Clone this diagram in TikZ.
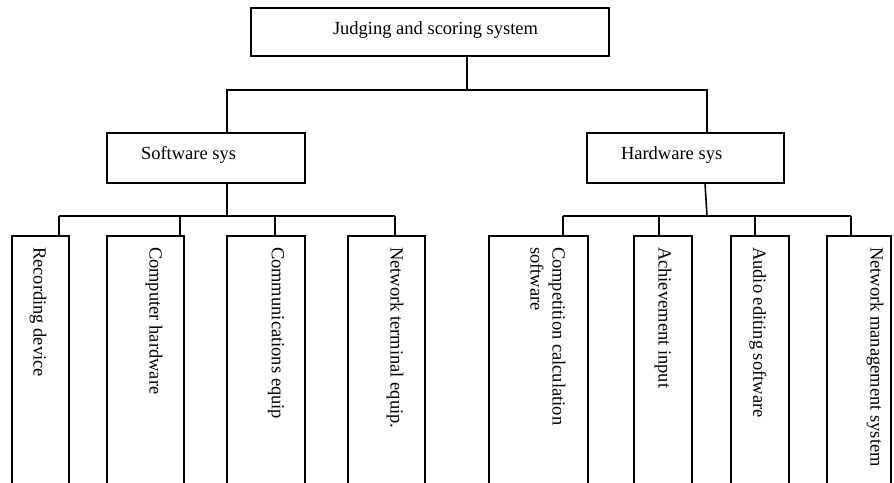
\documentclass[tikz,border=0pt]{standalone}
\usepackage{fontspec}
\setmainfont{Liberation Serif}
\begin{document}
\begin{tikzpicture}[x=1pt,y=-1pt, line width=1.6pt,
  box/.style={draw, rectangle, inner sep=0pt, outer sep=0pt, anchor=north west},
  lbl/.style={font=\fontsize{18.5}{22}\selectfont, inner sep=0pt, outer sep=0pt},
  vlbl/.style={lbl, rotate=-90, anchor=west, align=left}]
\useasboundingbox (0,0) rectangle (894,482);
\fill[white] (0,0) rectangle (894,482);
\clip (0,0) rectangle (894,482);

% boxes
\node[box, minimum width=358pt, minimum height=48pt] (top) at (251,8) {};
\node[box, minimum width=198pt, minimum height=50pt] (soft) at (107,133) {};
\node[box, minimum width=197pt, minimum height=50pt] (hard) at (587,133) {};

\node[box, minimum width=57pt, minimum height=270pt] (b1) at (12,236) {};
\node[box, minimum width=77pt, minimum height=270pt] (b2) at (107,236) {};
\node[box, minimum width=78pt, minimum height=270pt] (b3) at (227,236) {};
\node[box, minimum width=77pt, minimum height=270pt] (b4) at (348,236) {};
\node[box, minimum width=99pt, minimum height=270pt] (b5) at (489,236) {};
\node[box, minimum width=58pt, minimum height=270pt] (b6) at (634,236) {};
\node[box, minimum width=58pt, minimum height=270pt] (b7) at (731,236) {};
\node[box, minimum width=64pt, minimum height=270pt] (b8) at (827,236) {};

% texts
\node[lbl, anchor=base west] (tt) at (333,34) {Judging and scoring system};
\node[lbl, anchor=base west] (st) at (141,159) {Software sys};
\node[lbl, anchor=base west] (ht) at (621,159) {Hardware sys};

\node[vlbl] (t1) at (38,247) {Recording device};
\node[vlbl] (t2) at (154,247) {Computer hardware};
\node[vlbl] (t3) at (276,247) {Communications equip};
\node[vlbl] (t4) at (395,247) {Network terminal equip.};
\node[vlbl] (t5) at (548,247) {Competition calculation\\software};
\node[vlbl] (t6) at (663,247) {Achievement input};
\node[vlbl] (t7) at (758,247) {Audio editing software};
\node[vlbl] (t8) at (875,247) {Network management system};

% junction coordinates
\coordinate (jt) at (467,90);
\coordinate (js) at (227,90);
\coordinate (jh) at (707,90);
\coordinate (ls) at (227,216);
\coordinate (hs) at (705,183);
\coordinate (rs) at (707,216);
\coordinate (d1) at (59,216);
\coordinate (d2) at (180,216);
\coordinate (d3) at (275,216);
\coordinate (d4) at (395,216);
\coordinate (d5) at (563,216);
\coordinate (d6) at (659,216);
\coordinate (d7) at (755,216);
\coordinate (d8) at (851,216);

% connectors
\draw (top.south -| jt) -- (jt);
\draw (soft.north -| js) -- (js) -- (jh) -- (hard.north -| jh);
\draw (soft.south -| ls) -- (ls);
\draw (hs) -- (rs);
\draw (d1) -- (d4);
\draw (d5) -- (d8);
\draw (d1) -- (b1.north -| d1);
\draw (d2) -- (b2.north -| d2);
\draw (d3) -- (b3.north -| d3);
\draw (d4) -- (b4.north -| d4);
\draw (d5) -- (b5.north -| d5);
\draw (d6) -- (b6.north -| d6);
\draw (d7) -- (b7.north -| d7);
\draw (d8) -- (b8.north -| d8);
\end{tikzpicture}
\end{document}
